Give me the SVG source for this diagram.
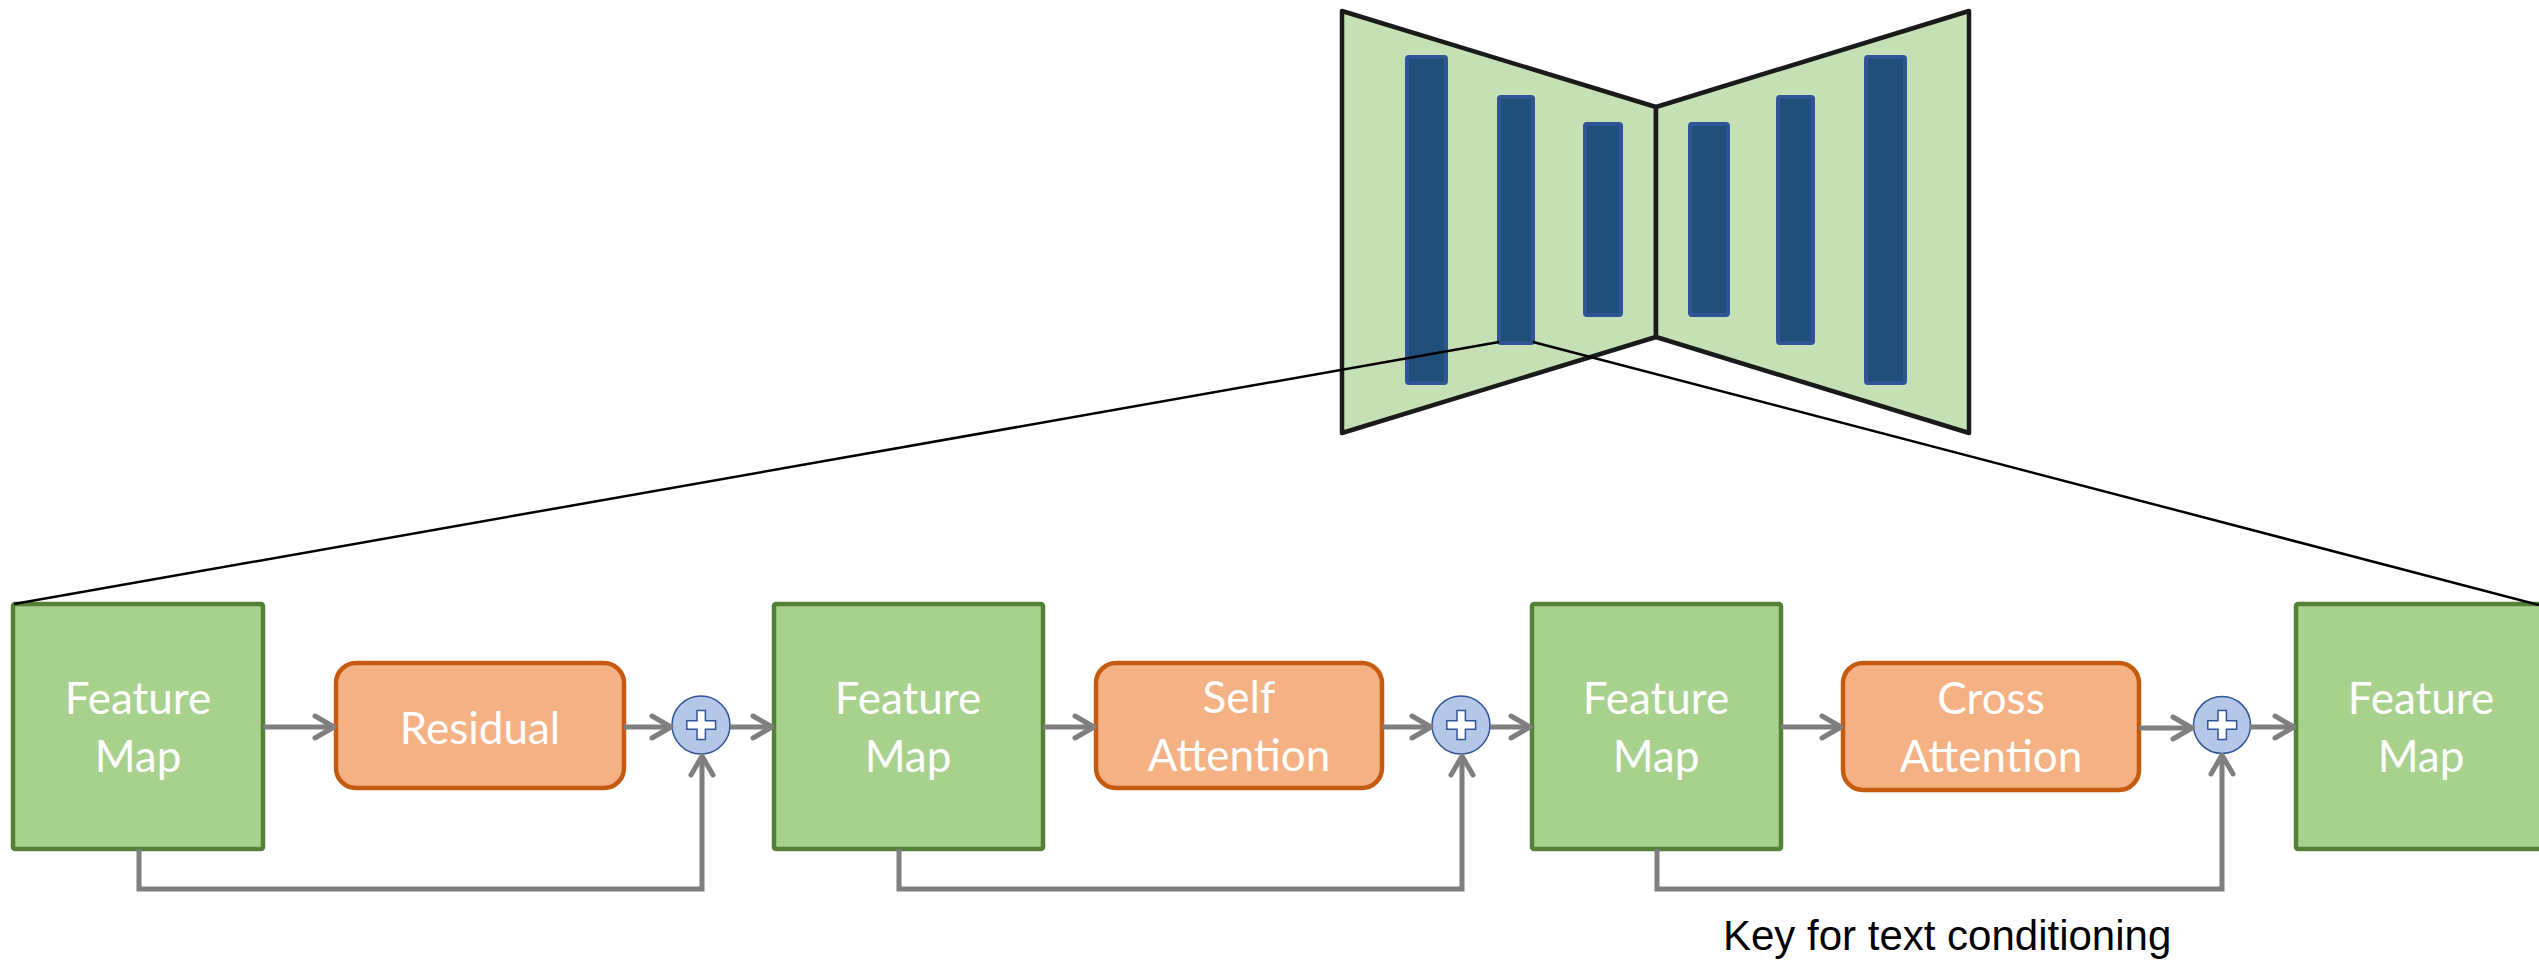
<svg xmlns="http://www.w3.org/2000/svg" width="2539" height="960" viewBox="0 0 2539 960">
  <style>
    .unet { fill: #C5E0B4; stroke: #1A1A1A; stroke-width: 4.5; stroke-linejoin: round; }
    .bar { fill: #1F4E79; stroke: #2F5597; stroke-width: 4; }
    .zoomline { stroke: #000; stroke-width: 2.5; fill: none; }
    .fmap { fill: #A9D18E; stroke: #538135; stroke-width: 4.5; }
    .op { fill: #F4B183; stroke: #C55A11; stroke-width: 4.5; }
    .sum { fill: #B4C7E7; stroke: #2F5597; stroke-width: 1.5; }
    .plus { fill: #FFFFFF; stroke: #2F5597; stroke-width: 1.5; }
    .lbl { font-family: Lato, "Open Sans", sans-serif; font-size: 44px; fill: #FFFFFF; text-anchor: middle; }
    .flow { stroke: #7F7F7F; stroke-width: 5; fill: none; marker-end: url(#chev); }
    .note { font-family: "Liberation Sans", Arial, sans-serif; font-size: 42px; fill: #000; }
  </style>
  <defs>
    <marker id="chev" markerUnits="userSpaceOnUse" viewBox="-25 -16 30 32" refX="0" refY="0" markerWidth="30" markerHeight="32" orient="auto">
      <path d="M-19,-11 L0,0 L-19,11" fill="none" stroke="#7F7F7F" stroke-width="5" stroke-linecap="round" stroke-linejoin="round"/>
    </marker>
  </defs>

  <!-- U-Net overview: encoder / decoder halves with feature bars -->
  <g id="unet">
    <polygon class="unet" points="1342,11 1656,107 1656,337 1342,433"/>
    <polygon class="unet" points="1656,107 1969,11 1969,433 1656,337"/>
    <rect class="bar" x="1407" y="57" width="39" height="326" rx="2"/>
    <rect class="bar" x="1499" y="97" width="34" height="246" rx="2"/>
    <rect class="bar" x="1585" y="124" width="36" height="191" rx="2"/>
    <rect class="bar" x="1690" y="124" width="38" height="191" rx="2"/>
    <rect class="bar" x="1778" y="97" width="35" height="246" rx="2"/>
    <rect class="bar" x="1866" y="57" width="39" height="326" rx="2"/>
  </g>

  <!-- Feature map blocks -->
  <g id="fm1">
    <rect class="fmap" x="13" y="604" width="250" height="245" rx="2"/>
    <text class="lbl" x="138" y="714">Feature</text>
    <text class="lbl" x="138" y="772">Map</text>
  </g>
  <g id="fm2">
    <rect class="fmap" x="774" y="604" width="269" height="245" rx="2"/>
    <text class="lbl" x="908" y="714">Feature</text>
    <text class="lbl" x="908" y="772">Map</text>
  </g>
  <g id="fm3">
    <rect class="fmap" x="1532" y="604" width="249" height="245" rx="2"/>
    <text class="lbl" x="1656" y="714">Feature</text>
    <text class="lbl" x="1656" y="772">Map</text>
  </g>
  <g id="fm4">
    <rect class="fmap" x="2296" y="604" width="250" height="245" rx="2"/>
    <text class="lbl" x="2421" y="714">Feature</text>
    <text class="lbl" x="2421" y="772">Map</text>
  </g>

  <!-- Operation blocks -->
  <g id="residual">
    <rect class="op" x="336" y="663" width="288" height="125" rx="20"/>
    <text class="lbl" x="480" y="744">Residual</text>
  </g>
  <g id="self-attention">
    <rect class="op" x="1096" y="663" width="286" height="125" rx="20"/>
    <text class="lbl" x="1239" y="713">Self</text>
    <text class="lbl" x="1239" y="771">Attention</text>
  </g>
  <g id="cross-attention">
    <rect class="op" x="1843" y="663" width="296" height="127" rx="20"/>
    <text class="lbl" x="1991" y="714">Cross</text>
    <text class="lbl" x="1991" y="772">Attention</text>
  </g>

  <!-- Summation nodes -->
  <g id="sum1">
    <circle class="sum" cx="701" cy="725" r="29"/>
    <path class="plus" d="M697,710.5 h8.4 v10.2 h10.2 v8.6 h-10.2 v10.2 h-8.4 v-10.2 h-10.2 v-8.6 h10.2 z"/>
  </g>
  <g id="sum2">
    <circle class="sum" cx="1461" cy="725" r="29"/>
    <path class="plus" d="M1457,710.5 h8.4 v10.2 h10.2 v8.6 h-10.2 v10.2 h-8.4 v-10.2 h-10.2 v-8.6 h10.2 z"/>
  </g>
  <g id="sum3">
    <circle class="sum" cx="2222" cy="725" r="28.5"/>
    <path class="plus" d="M2218,710.5 h8.4 v10.2 h10.2 v8.6 h-10.2 v10.2 h-8.4 v-10.2 h-10.2 v-8.6 h10.2 z"/>
  </g>

  <g id="caption">
    <text class="note" x="1723" y="950">Key for text conditioning</text>
  </g>

  <!-- Connectors -->
  <g id="connectors">
    <path class="zoomline" d="M1499,342 L14,604"/>
    <path class="zoomline" d="M1533,342 L2539,605"/>

    <path class="flow" d="M263,727 L334,727"/>
    <path class="flow" d="M624,727 L671,727"/>
    <path class="flow" d="M730,727 L772,727"/>
    <path class="flow" d="M139,849 L139,889 L702,889 L702,756"/>

    <path class="flow" d="M1043,727 L1094,727"/>
    <path class="flow" d="M1382,727 L1431,727"/>
    <path class="flow" d="M1490,727 L1530,727"/>
    <path class="flow" d="M899,849 L899,889 L1462,889 L1462,756"/>

    <path class="flow" d="M1781,727 L1841,727"/>
    <path class="flow" d="M2139,728 L2192,728"/>
    <path class="flow" d="M2250,727 L2294,727"/>
    <path class="flow" d="M1657,849 L1657,889 L2222,889 L2222,755"/>
  </g>
</svg>
